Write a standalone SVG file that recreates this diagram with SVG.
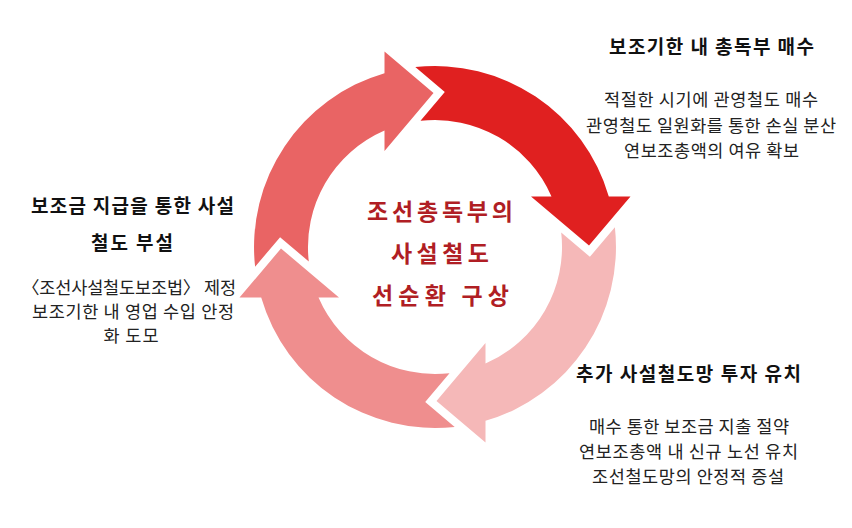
<svg xmlns="http://www.w3.org/2000/svg" xmlns:xlink="http://www.w3.org/1999/xlink" width="852" height="528" viewBox="0 0 852 528">
<style>
text{font-family:"Noto Sans CJK KR","Noto Sans CJK SC",sans-serif;text-anchor:middle}
.t{font-size:19px;font-weight:700;fill:#111}
.b{font-size:17.5px;font-weight:400;fill:#222}
.c{font-size:23px;font-weight:700;fill:#B01E24}
</style>
<defs>
<path id="arrow" d="M -19.7 -179.9 A 181 181 0 0 1 173.8 -50.5 L 195.5 -50.5 L 154 -1.5 L 96 -50.5 L 116.5 -50.5 A 127 127 0 0 0 -14.5 -126.2 L 9.8 -154.9 Z"/>
</defs>
<rect width="852" height="528" fill="#fff"/>
<g id="connectors">
<g id="arrow-purchase"><use xlink:href="#arrow" href="#arrow" transform="translate(435 247)" fill="#E02020"/></g>
<g id="arrow-investment"><use xlink:href="#arrow" href="#arrow" transform="translate(435 247) rotate(90)" fill="#F5B8B8"/></g>
<g id="arrow-subsidy-law"><use xlink:href="#arrow" href="#arrow" transform="translate(435 247) rotate(180)" fill="#EF8E8E"/></g>
<g id="arrow-laying"><use xlink:href="#arrow" href="#arrow" transform="translate(435 247) rotate(270)" fill="#E96464"/></g>
</g>
<g id="center">
<text class="c" x="440" y="219.5" textLength="146" lengthAdjust="spacing">조선총독부의</text>
<text class="c" x="440" y="261.5" textLength="98" lengthAdjust="spacing">사설철도</text>
<text class="c" x="440.5" y="304" textLength="137" lengthAdjust="spacing">선순환 구상</text>
</g>
<g id="node-laying">
<text class="t" x="132.5" y="213" textLength="203" lengthAdjust="spacing">보조금 지급을 통한 사설</text>
<text class="t" x="132" y="249.5" textLength="82" lengthAdjust="spacing">철도 부설</text>
<text class="b" x="129" y="294" textLength="214" lengthAdjust="spacing">〈조선사설철도보조법〉 제정</text>
<text class="b" x="133" y="318" textLength="202" lengthAdjust="spacing">보조기한 내 영업 수입 안정</text>
<text class="b" x="131" y="342" textLength="55" lengthAdjust="spacing">화 도모</text>
</g>
<g id="node-purchase">
<text class="t" x="711.5" y="54" textLength="205" lengthAdjust="spacing">보조기한 내 총독부 매수</text>
<text class="b" x="711" y="105.5" textLength="214" lengthAdjust="spacing">적절한 시기에 관영철도 매수</text>
<text class="b" x="711" y="131.5" textLength="250" lengthAdjust="spacing">관영철도 일원화를 통한 손실 분산</text>
<text class="b" x="711.5" y="156.5" textLength="175" lengthAdjust="spacing">연보조총액의 여유 확보</text>
</g>
<g id="node-investment">
<text class="t" x="688.5" y="381" textLength="225" lengthAdjust="spacing">추가 사설철도망 투자 유치</text>
<text class="b" x="689" y="432.5" textLength="200" lengthAdjust="spacing">매수 통한 보조금 지출 절약</text>
<text class="b" x="688.5" y="457.5" textLength="219" lengthAdjust="spacing">연보조총액 내 신규 노선 유치</text>
<text class="b" x="688" y="482.5" textLength="192" lengthAdjust="spacing">조선철도망의 안정적 증설</text>
</g>
</svg>
